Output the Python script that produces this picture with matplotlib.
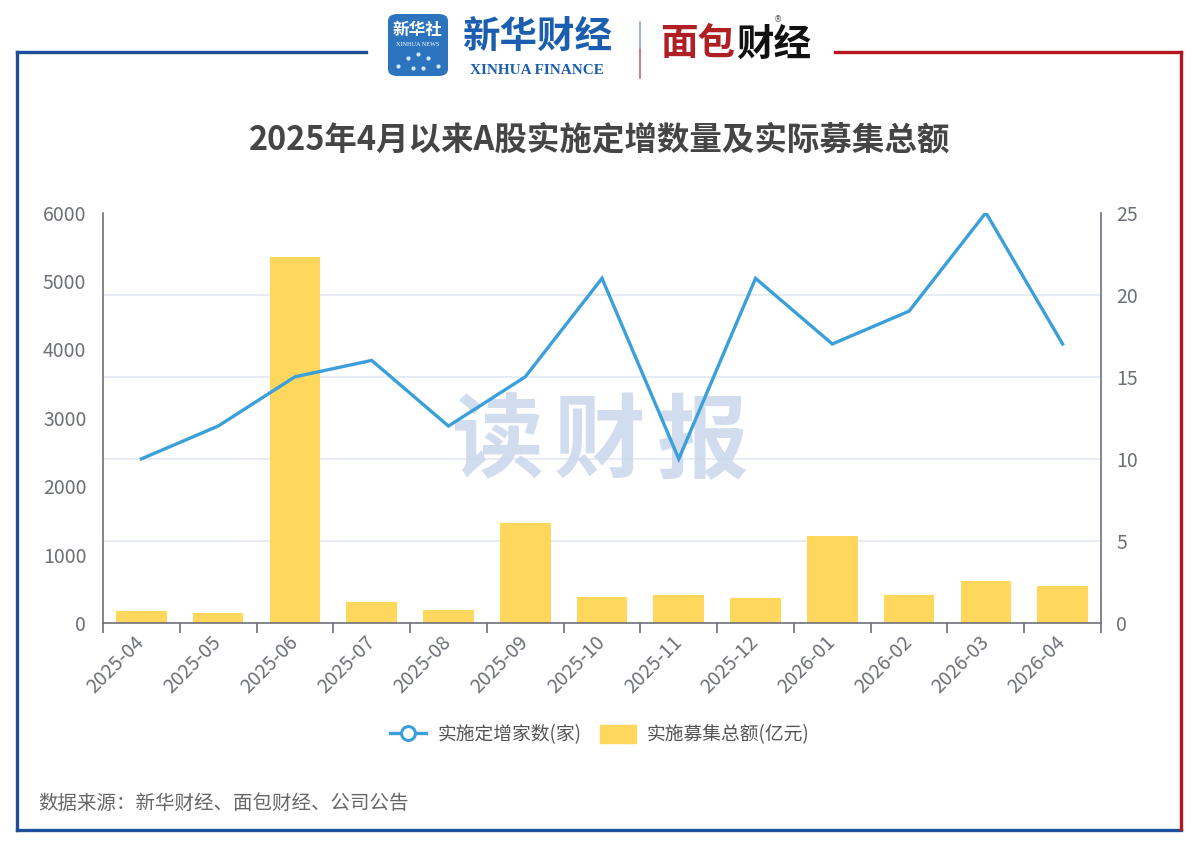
import matplotlib
matplotlib.use("Agg")
import matplotlib.pyplot as plt
from matplotlib.lines import Line2D
from matplotlib.patches import Patch, FancyBboxPatch
import numpy as np

plt.rcParams['font.family'] = ['Noto Sans CJK SC', 'DejaVu Sans']

# ---------------- data ----------------
months = ["2025-04", "2025-05", "2025-06", "2025-07", "2025-08", "2025-09", "2025-10",
          "2025-11", "2025-12", "2026-01", "2026-02", "2026-03", "2026-04"]
count_companies = [10, 12, 15, 16, 12, 15, 21, 10, 21, 17, 19, 25, 17]          # 家
raised_amount = [170, 146, 5357, 307, 184, 1461, 380, 413, 360, 1266, 409, 608, 535]  # 亿元
left_ticks = [0, 1000, 2000, 3000, 4000, 5000, 6000]
right_ticks = [0, 5, 10, 15, 20, 25]

title = "2025年4月以来A股实施定增数量及实际募集总额"
legend_line = "实施定增家数(家)"
legend_bar = "实施募集总额(亿元)"
source = "数据来源：新华财经、面包财经、公司公告"

# ---------------- style ----------------
W, H = 1200, 848
BAR_C = "#FED75C"
LINE_C = "#3BA0D9"
AXIS_C = "#6E7079"
GRID_C = "#E0E6F1"
BLUE_F = "#1D4F98"
RED_F = "#B5161E"

def fx(x):
    return x / W

def fy(y):
    return 1 - y / H

fig = plt.figure(figsize=(12, 8.48), dpi=100)
fig.patch.set_facecolor("white")

ax1 = fig.add_axes([fx(103), fy(623), fx(1101) - fx(103), fy(212.7) - fy(623)])
ax2 = ax1.twinx()

x = np.arange(len(months))
ax1.bar(x, raised_amount, width=0.66, color=BAR_C, zorder=2)
ax2.plot(x, count_companies, color=LINE_C, lw=2.4, solid_joinstyle="miter", zorder=3)

ax1.set_xlim(-0.5, len(months) - 0.5)
ax1.set_ylim(0, 6000)
ax2.set_ylim(0, 25)
ax1.set_yticks(left_ticks)
ax2.set_yticks(right_ticks)

# gridlines aligned with right axis ticks, drawn behind bars
grid_pos = [t / right_ticks[-1] * left_ticks[-1] for t in right_ticks[1:]]
ax1.set_yticks(grid_pos, minor=True)
ax1.grid(which="minor", axis="y", color=GRID_C, lw=1.1)
ax1.set_axisbelow(True)

ax1.set_xticks(x)
ax1.set_xticklabels(months, rotation=45, ha="right", va="center", rotation_mode="anchor")
ax1.set_xticks(np.arange(-0.5, len(months)), minor=True)
ax1.tick_params(axis="x", which="major", length=0, pad=12, labelsize=14, labelcolor=AXIS_C)
ax1.tick_params(axis="x", which="minor", length=7, width=1.2, color=AXIS_C)
ax1.tick_params(axis="y", which="both", length=0, labelsize=14, labelcolor=AXIS_C, pad=12)
ax2.tick_params(axis="y", length=0, labelsize=14, labelcolor=AXIS_C, pad=11)

for a in (ax1, ax2):
    a.spines["top"].set_visible(False)
    for s in ("left", "right", "bottom"):
        a.spines[s].set_color(AXIS_C)
        a.spines[s].set_linewidth(1.2)
ax1.spines["right"].set_visible(False)
ax2.spines["left"].set_visible(False)
ax2.spines["bottom"].set_visible(False)

# watermark
for i, ch in enumerate("读财报"):
    ax1.text(fx(497 + 103 * i), fy(443), ch, transform=fig.transFigure, fontsize=66,
             fontweight="bold", color="#C9D7EC", alpha=0.85, ha="center", va="center", zorder=1)

# title
fig.text(0.5, fy(140), title, fontsize=23.4, fontweight="bold", color="#454545",
         ha="center", va="center")

# legend
handles = [Line2D([0], [0], color=LINE_C, lw=2.4, marker="o", markersize=10,
                  markerfacecolor="white", markeredgecolor=LINE_C, markeredgewidth=2.2),
           Patch(facecolor=BAR_C, edgecolor=BAR_C)]
fig.legend(handles, [legend_line, legend_bar], loc="center", bbox_to_anchor=(0.5, fy(735)),
           ncol=2, frameon=False, fontsize=13.5, labelcolor="#555555", handlelength=1.9,
           handleheight=1.1, columnspacing=1.0, handletextpad=0.6)

# source
fig.text(fx(38), fy(803), source, fontsize=14, color="#666666", ha="left", va="center")

# frame
lw = 2.4
fig.add_artist(Line2D([fx(17), fx(366)], [fy(52), fy(52)], color=BLUE_F, lw=lw))
fig.add_artist(Line2D([fx(17), fx(17)], [fy(52), fy(830)], color=BLUE_F, lw=lw))
fig.add_artist(Line2D([fx(17), fx(1181)], [fy(830), fy(830)], color=BLUE_F, lw=lw))
fig.add_artist(Line2D([fx(835), fx(1181)], [fy(52), fy(52)], color=RED_F, lw=lw))
fig.add_artist(Line2D([fx(1181), fx(1181)], [fy(52), fy(829)], color=RED_F, lw=lw))

# header logos
box = FancyBboxPatch((fx(388), fy(76)), fx(60), fy(14) - fy(76),
                     boxstyle="round,pad=0,rounding_size=0.008", transform=fig.transFigure,
                     facecolor="#2C74BD", edgecolor="none")
fig.add_artist(box)
fig.text(fx(418), fy(30), "新华社", fontsize=12, fontweight="bold", color="white",
         ha="center", va="center")
fig.text(fx(418), fy(44), "XINHUA NEWS", fontsize=4.5, color="white", ha="center",
         va="center", family="Liberation Serif")
for px, py in [(398, 66), (408, 58), (418, 54), (428, 58), (438, 66), (413, 68), (423, 68)]:
    fig.add_artist(Line2D([fx(px)], [fy(py)], marker="o", markersize=2, color="#D6E8F8", lw=0))

fig.text(fx(537), fy(36), "新华财经", fontsize=27, fontweight="bold", color="#1B5DAE",
         ha="center", va="center", style="italic")
fig.text(fx(537), fy(70), "XINHUA FINANCE", fontsize=11, fontweight="bold", color="#1B5DAE",
         ha="center", va="center", family="Liberation Serif")
fig.add_artist(Line2D([fx(640), fx(640)], [fy(22), fy(50)], color="#8AA6CF", lw=1.2))
fig.add_artist(Line2D([fx(640), fx(640)], [fy(50), fy(78)], color="#C8646A", lw=1.2))
fig.text(fx(660), fy(44), "面包", fontsize=27, fontweight="bold", color="#B01F24",
         ha="left", va="center")
fig.text(fx(736), fy(44), "财经", fontsize=27, fontweight="bold", color="#111111",
         ha="left", va="center")
fig.text(fx(778), fy(20), "®", fontsize=6, color="#555555", ha="center", va="center",
         family="DejaVu Sans")

fig.savefig("out.png", dpi=100, facecolor="white")
